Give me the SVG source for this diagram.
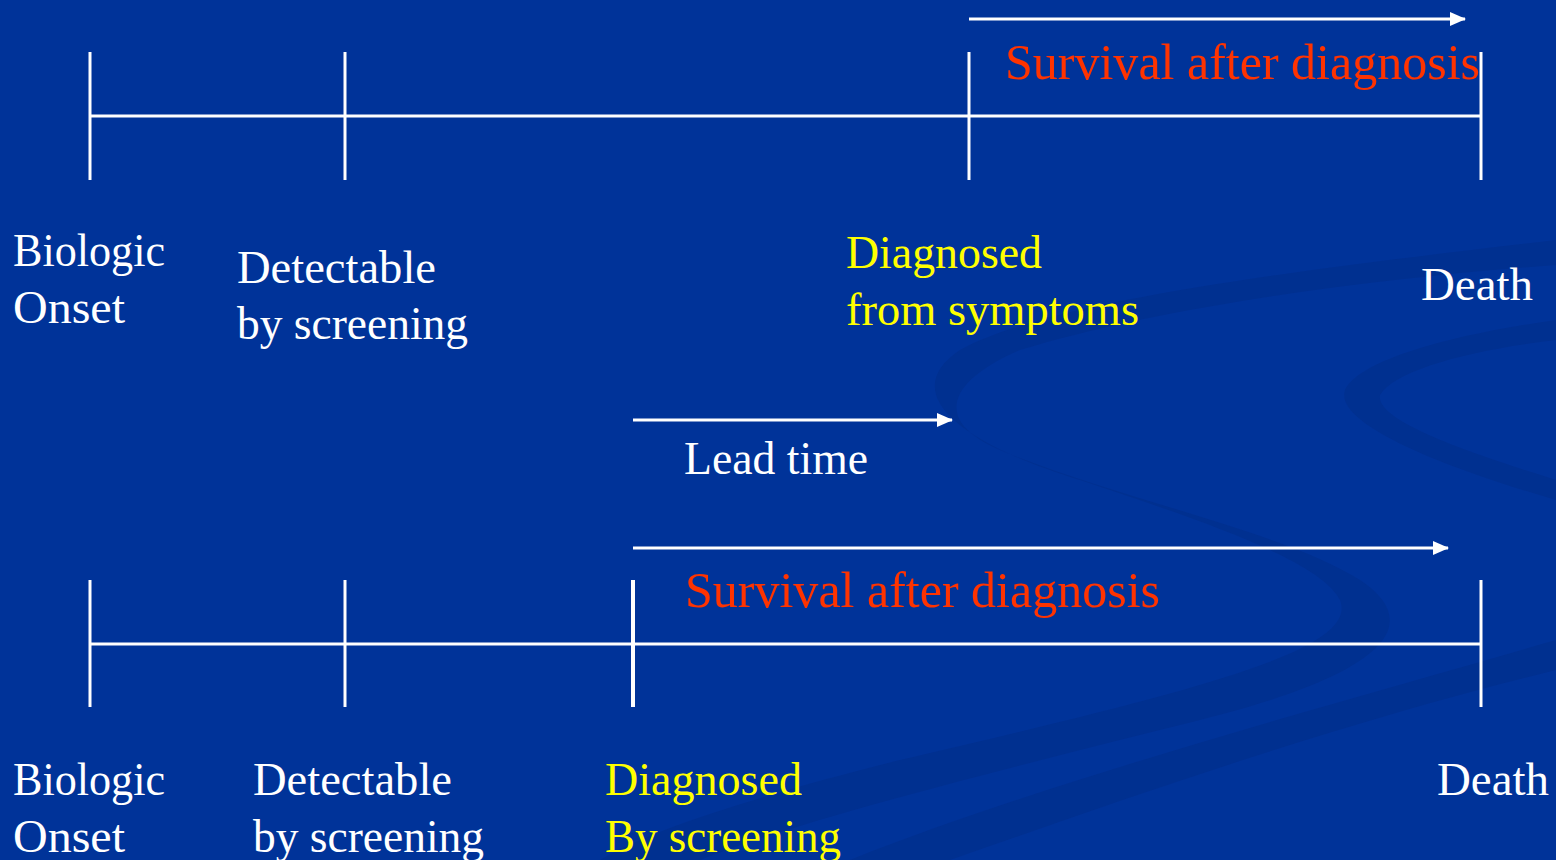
<svg xmlns="http://www.w3.org/2000/svg" width="1556" height="860" viewBox="0 0 1556 860">
<defs>
<marker id="ah" markerWidth="16" markerHeight="14" refX="15" refY="7" orient="auto" markerUnits="userSpaceOnUse">
<path d="M0,0 L16,7 L0,14 Z" fill="#ffffff"/>
</marker>
<style>
.ln{stroke:#ffffff;stroke-width:3;fill:none}
.tk{stroke:#ffffff;stroke-width:3;fill:none}
.t{font-family:"Liberation Serif","Times New Roman",serif;font-size:46px}
.w{fill:#ffffff}
.y{fill:#ffff00}
.r{fill:#ff3300;font-size:50px}
.sw{fill:#002f8c;opacity:0.7}
</style>
</defs>
<rect width="1556" height="860" fill="#003399"/>
<g id="background">
<path class="sw" d="M1556,240 C1300,270 1050,300 960,350 C900,390 950,440 1080,480 C1200,520 1320,560 1340,600 C1360,650 1200,690 900,760 C760,795 650,830 600,860 L700,860 C800,820 1000,770 1200,720 C1400,670 1420,620 1360,580 C1280,530 1120,500 1000,450 C930,420 950,380 1020,350 C1150,310 1350,280 1556,265 Z"/>
<path class="sw" d="M1556,320 C1450,335 1360,360 1345,390 C1335,420 1420,460 1556,500 L1556,480 C1460,450 1375,420 1380,395 C1395,370 1470,350 1556,340 Z"/>
<path class="sw" d="M1556,640 C1350,700 1050,780 850,860 L950,860 C1150,790 1350,720 1556,670 Z"/>
</g>
<g id="connectors">
<line class="ln" x1="90" y1="116" x2="1481" y2="116"/>
<line class="tk" x1="90" y1="52" x2="90" y2="180"/>
<line class="tk" x1="345" y1="52" x2="345" y2="180"/>
<line class="tk" x1="969" y1="52" x2="969" y2="180"/>
<line class="tk" x1="1481" y1="52" x2="1481" y2="180"/>
<line class="ln" x1="969" y1="19" x2="1465" y2="19" marker-end="url(#ah)"/>
<line class="ln" x1="633" y1="420" x2="952" y2="420" marker-end="url(#ah)"/>
<line class="ln" x1="633" y1="548" x2="1448" y2="548" marker-end="url(#ah)"/>
<line class="ln" x1="90" y1="644" x2="1481" y2="644"/>
<line class="tk" x1="90" y1="580" x2="90" y2="707"/>
<line class="tk" x1="345" y1="580" x2="345" y2="707"/>
<line class="tk" x1="633" y1="580" x2="633" y2="707" style="stroke-width:4"/>
<line class="tk" x1="1481" y1="580" x2="1481" y2="707"/>
</g>
<g id="top-survival"><text class="t r" x="1005" y="79" textLength="475" lengthAdjust="spacingAndGlyphs">Survival after diagnosis</text></g>
<g id="top-onset"><text class="t w" x="13" y="266" textLength="152" lengthAdjust="spacingAndGlyphs">Biologic</text><text class="t w" x="13" y="323" textLength="112" lengthAdjust="spacingAndGlyphs">Onset</text></g>
<g id="top-detectable"><text class="t w" x="237" y="283" textLength="199" lengthAdjust="spacingAndGlyphs">Detectable</text><text class="t w" x="237" y="339" textLength="231" lengthAdjust="spacingAndGlyphs">by screening</text></g>
<g id="top-diagnosed"><text class="t y" x="846" y="268" textLength="196" lengthAdjust="spacingAndGlyphs">Diagnosed</text><text class="t y" x="846" y="325" textLength="293" lengthAdjust="spacingAndGlyphs">from symptoms</text></g>
<g id="top-death"><text class="t w" x="1421" y="300" textLength="112" lengthAdjust="spacingAndGlyphs">Death</text></g>
<g id="lead-time"><text class="t w" x="684" y="474" textLength="184" lengthAdjust="spacingAndGlyphs">Lead time</text></g>
<g id="bottom-survival"><text class="t r" x="685" y="607" textLength="475" lengthAdjust="spacingAndGlyphs">Survival after diagnosis</text></g>
<g id="bottom-onset"><text class="t w" x="13" y="795" textLength="152" lengthAdjust="spacingAndGlyphs">Biologic</text><text class="t w" x="13" y="852" textLength="112" lengthAdjust="spacingAndGlyphs">Onset</text></g>
<g id="bottom-detectable"><text class="t w" x="253" y="795" textLength="199" lengthAdjust="spacingAndGlyphs">Detectable</text><text class="t w" x="253" y="852" textLength="231" lengthAdjust="spacingAndGlyphs">by screening</text></g>
<g id="bottom-diagnosed"><text class="t y" x="605" y="795" textLength="197" lengthAdjust="spacingAndGlyphs">Diagnosed</text><text class="t y" x="605" y="852" textLength="236" lengthAdjust="spacingAndGlyphs">By screening</text></g>
<g id="bottom-death"><text class="t w" x="1437" y="795" textLength="112" lengthAdjust="spacingAndGlyphs">Death</text></g>
</svg>
